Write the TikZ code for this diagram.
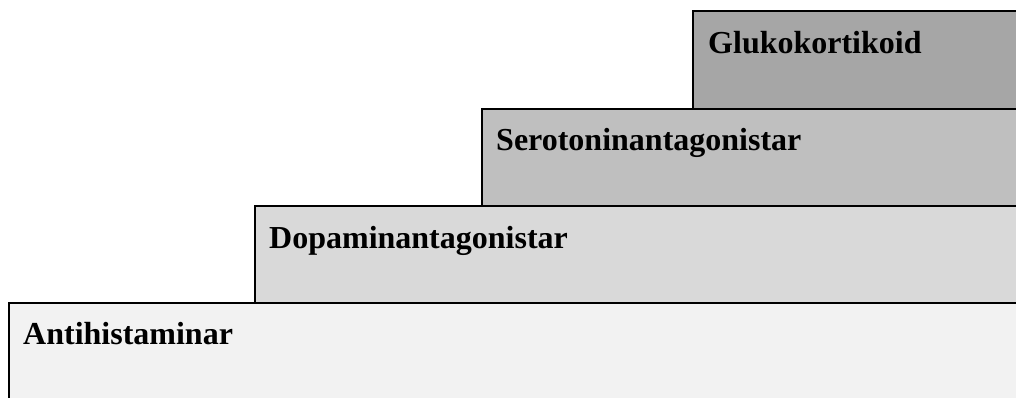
\documentclass[tikz,border=0pt]{standalone}
\usepackage{fontspec}
\setmainfont{Liberation Serif}
\definecolor{gA}{HTML}{F2F2F2}
\definecolor{gB}{HTML}{D9D9D9}
\definecolor{gC}{HTML}{BFBFBF}
\definecolor{gD}{HTML}{A6A6A6}
\begin{document}
\begin{tikzpicture}[x=1pt,y=-1pt,
  stepbox/.style={draw=black,line width=2.2pt},
  lbl/.style={anchor=base west,inner sep=0pt,font=\bfseries\fontsize{32}{38}\selectfont}]
\useasboundingbox (0,0) rectangle (1016,397);
\begin{scope}
\clip (0,0) rectangle (1016,397);
\draw[stepbox,fill=gA] (9,303) rectangle (1040,430);
\draw[stepbox,fill=gB] (255,206) rectangle (1040,303);
\draw[stepbox,fill=gC] (482,109) rectangle (1040,206);
\draw[stepbox,fill=gD] (693,11) rectangle (1040,109);
\end{scope}
\node[lbl] (anti) at (23,344) {Antihistaminar};
\node[lbl] (dopa) at (269,248) {Dopaminantagonistar};
\node[lbl] (sero) at (496,150) {Serotoninantagonistar};
\node[lbl] (gluk) at (708,53) {Glukokortikoid};
\end{tikzpicture}
\end{document}
